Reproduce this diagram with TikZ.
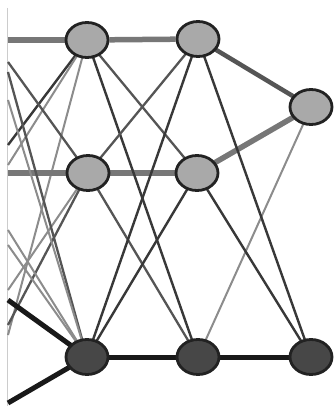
\documentclass[tikz,border=0pt]{standalone}
\usetikzlibrary{shapes.geometric,backgrounds}
\definecolor{nlight}{HTML}{A9A9A9}
\definecolor{ndark}{HTML}{474747}
\definecolor{nrim}{HTML}{222222}
\definecolor{egray}{HTML}{777777}
\definecolor{emid}{HTML}{555555}
\definecolor{edark}{HTML}{383838}
\definecolor{elight}{HTML}{8C8C8C}
\begin{document}
\begin{tikzpicture}[x=1pt,y=-1pt,
  neuron/.style={ellipse,draw=nrim,line width=2.8pt,minimum width=42pt,minimum height=35pt,inner sep=0pt},
  lightn/.style={neuron,fill=nlight},
  darkn/.style={neuron,fill=ndark},
  thickgray/.style={draw=egray,line width=5.5pt},
  thickblack/.style={draw=black!90,line width=5pt},
  thin/.style={draw=edark,line width=2.4pt},
  thinmid/.style={draw=emid,line width=2.3pt},
  thinlight/.style={draw=elight,line width=2pt}]
\useasboundingbox (0,0) rectangle (336,412);
% neurons
\node[lightn] (A1) at (87,40) {};
\node[lightn] (A2) at (88,173) {};
\node[darkn]  (A3) at (87,357) {};
\node[lightn] (B1) at (198,39) {};
\node[lightn] (B2) at (197,173) {};
\node[darkn]  (B3) at (198,357) {};
\node[lightn] (C1) at (311,107) {};
\node[darkn]  (C3) at (311,357) {};
% free ends at the cropped left edge
\coordinate (L40) at (8,40);
\coordinate (L62) at (8,62);
\coordinate (L72) at (8,72);
\coordinate (L100) at (8,100);
\coordinate (L145) at (8,145);
\coordinate (L165) at (8,165);
\coordinate (L173) at (8,173);
\coordinate (L230) at (8,230);
\coordinate (L245) at (8,245);
\coordinate (L290) at (8,290);
\coordinate (L300) at (8,300);
\coordinate (L325) at (8,325);
\coordinate (L335) at (8,335);
\coordinate (L403) at (8,403);
\coordinate (Ltop) at (7.5,8);
\coordinate (Lbot) at (7.5,406);
\begin{scope}[on background layer]
  \fill[white] (0,0) rectangle (336,412);
  % left edge of the crop
  \draw[draw=black!20,line width=1pt] (Ltop) -- (Lbot);
  % incoming connections from the cropped layer
  \draw[thickgray] (L40) -- (A1.center);
  \draw[thin] (L145) -- (A1.center);
  \draw[thinlight] (L165) -- (A1.center);
  \draw[thinlight] (L335) -- (A1.center);
  \draw[thinmid] (L62) -- (A2.center);
  \draw[thickgray] (L173) -- (A2.center);
  \draw[thinlight] (L290) -- (A2.center);
  \draw[thinmid] (L325) -- (A2.center);
  \draw[thinmid] (L72) -- (A3.center);
  \draw[thinlight] (L100) -- (A3.center);
  \draw[thinlight] (L230) -- (A3.center);
  \draw[thinlight] (L245) -- (A3.center);
  \draw[thickblack] (L300) -- (A3.center);
  \draw[thickblack] (L403) -- (A3.center);
  % layer A to layer B
  \draw[thickgray] (A1) -- (B1);
  \draw[thickgray] (A2) -- (B2);
  \draw[thickblack] (A3) -- (B3);
  \draw[thinmid] (A1.center) -- (B2.center);
  \draw[thin] (A1.center) -- (B3.center);
  \draw[thinmid] (A2.center) -- (B1.center);
  \draw[thinmid] (A2.center) -- (B3.center);
  \draw[thin] (A3.center) -- (B1.center);
  \draw[thin] (A3.center) -- (B2.center);
  % layer B to layer C
  \draw[draw=emid,line width=4.5pt] (B1.center) -- (C1.center);
  \draw[thickgray] (B2.center) -- (C1.center);
  \draw[thinlight] (B3.center) -- (C1.center);
  \draw[thin] (B1.center) -- (C3.center);
  \draw[thin] (B2.center) -- (C3.center);
  \draw[thickblack] (B3) -- (C3);
\end{scope}
\end{tikzpicture}
\end{document}
